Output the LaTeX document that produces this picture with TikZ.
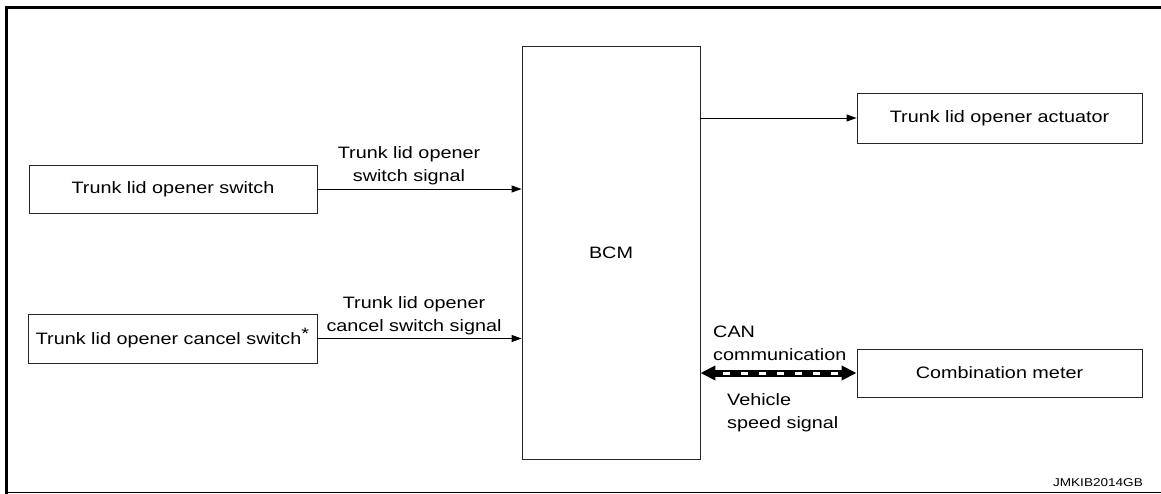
\documentclass[tikz,border=0pt]{standalone}
\usepackage{fontspec}
\setmainfont{Liberation Sans}[FakeStretch=1.2]
\usetikzlibrary{arrows.meta}
\begin{document}
\begin{tikzpicture}[x=1pt,y=-1pt,
  box/.style={draw=black!85,line width=0.9pt,inner sep=0pt,font=\fontsize{16.5}{23}\selectfont},
  lbl/.style={inner sep=0pt,font=\fontsize{16.5}{23}\selectfont},
  sig/.style={line width=0.9pt,-{Triangle[length=10pt,width=7pt]}},
  can/.style={line width=7pt,{Triangle[length=15pt,width=14pt]}-{Triangle[length=15pt,width=14pt]}}]
\useasboundingbox (0,0) rectangle (1161,494);
% frame
\draw[line width=3pt] (6.5,494) -- (6.5,7.5) -- (1161,7.5);
\draw[line width=1pt] (5,492.5) -- (1161,492.5);
% boxes
\node[box,minimum width=288pt,minimum height=48pt] (sw) at (173,189) {Trunk lid opener switch};
\node[box,minimum width=289pt,minimum height=49pt] (cs) at (172.5,338.5) {Trunk lid opener cancel switch\raisebox{5pt}{*}};
\node[box,minimum width=178pt,minimum height=413pt] (bcm) at (611,252.5) {BCM};
\node[box,minimum width=285pt,minimum height=50pt] (act) at (999.5,118) {Trunk lid opener actuator};
\node[box,minimum width=285pt,minimum height=48pt] (met) at (999.5,373) {Combination meter};
% connectors
\draw[sig] (sw.east) -- (sw.east -| bcm.west);
\draw[sig] (cs.east) -- (cs.east -| bcm.west);
\draw[sig] (act.west -| bcm.east) -- (act.west);
\draw[can] (met.west -| bcm.east) -- (met.west);
\coordinate (d1) at (723,373);
\coordinate (d2) at (842,373);
\draw[white,line width=3pt,dash pattern=on 7pt off 11pt] (d1) -- (d2);
% labels
\node[lbl,align=center,anchor=base] (l1) at (409,182) {Trunk lid opener\\switch signal};
\node[lbl,align=center,anchor=base] (l2) at (414,331) {Trunk lid opener\\cancel switch signal};
\node[lbl,align=left,anchor=base west] (l3) at (713,360) {CAN\\communication};
\node[lbl,align=left,anchor=base west] (l4) at (727,428) {Vehicle\\speed signal};
\node[inner sep=0pt,anchor=base east,font=\fontsize{11.3}{13}\selectfont] (id) at (1143,486) {JMKIB2014GB};
\end{tikzpicture}
\end{document}
